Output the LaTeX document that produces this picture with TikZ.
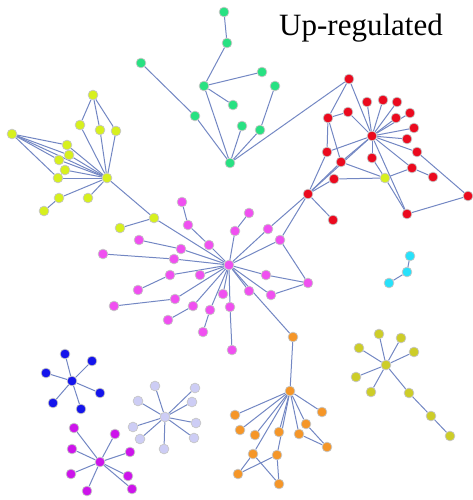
\documentclass[tikz,border=0pt]{standalone}
\usepackage{fontspec}
\setmainfont{Liberation Serif}
\usetikzlibrary{backgrounds}

\definecolor{verde}{RGB}{40,225,130}
\definecolor{rojo}{RGB}{235,10,30}
\definecolor{amarillo}{RGB}{215,240,30}
\definecolor{magenta2}{RGB}{240,80,240}
\definecolor{naranja}{RGB}{245,150,40}
\definecolor{celeste}{RGB}{40,225,250}
\definecolor{oliva}{RGB}{205,205,40}
\definecolor{azul}{RGB}{20,20,235}
\definecolor{lavanda}{RGB}{205,205,245}
\definecolor{purpura}{RGB}{205,20,235}
\definecolor{aristac}{RGB}{115,135,195}

\tikzset{
    nodo/.style={circle, inner sep=0pt, minimum size=9.8pt, draw=black!22, line width=0.7pt},
    arista/.style={draw=aristac, line width=1pt},
}

\begin{document}
\begin{tikzpicture}[x=1pt, y=-1pt]
            \useasboundingbox (0,0) rectangle (472,500);

            % Titulo
            \node[anchor=base, font=\fontsize{31}{34}\selectfont] (titulo) at (361,36) {Up-regulated};

            % Verde
            \foreach \n/\x/\y in {g1/224/12, g2/227/43, g3/204/86, g4/141/63, g5/195/116, g6/262/72,
                g7/275/86, g8/233/105, g9/242/126, g10/260/130, g11/230/163}
                \node[nodo, fill=verde] (\n) at (\x,\y) {};

            % Rojo
            \foreach \n/\x/\y in {r1/349/79, r2/328/118, r3/348/112, r4/367/102, r5/383/100, r6/397/102,
                r7/396/118, r8/410/113, r9/414/128, r10/407/139, r11/372/136, r12/327/152, r13/372/158,
                r14/417/152, r15/341/162, r16/412/168, r17/334/179, r18/433/177, r19/308/194,
                r20/468/196, r21/407/214, r22/333/220}
                \node[nodo, fill=rojo] (\n) at (\x,\y) {};
            \node[nodo, fill=amarillo] (ry) at (385,178) {};

            % Amarillo
            \foreach \n/\x/\y in {y1/93/95, y2/80/125, y3/100/130, y4/116/131, y5/12/134, y6/67/145,
                y7/69/155, y8/59/160, y9/65/170, y10/58/178, yh/107/178, y11/59/198, y12/44/211,
                y13/88/198, y14/154/218, y15/120/228}
                \node[nodo, fill=amarillo] (\n) at (\x,\y) {};

            % Magenta
            \foreach \n/\x/\y in {mh/229/265, m1/182/202, m2/188/225, m3/209/245, m4/249/213, m5/235/231,
                m6/268/229, m7/280/240, m8/139/240, m9/181/249, m10/103/254, m11/174/259, m12/170/275,
                m13/200/275, m14/138/290, m15/266/275, m16/308/283, m17/223/294, m18/249/291,
                m19/271/295, m20/114/306, m21/175/299, m22/193/306, m23/230/307, m24/210/310,
                m25/168/320, m26/203/332, m27/232/350}
                \node[nodo, fill=magenta2] (\n) at (\x,\y) {};

            % Naranja
            \foreach \n/\x/\y in {o1/293/337, oh/290/391, o2/235/415, o3/322/412, o4/240/430, o5/255/435,
                o6/279/432, o7/306/424, o8/299/434, o9/327/447, o10/253/454, o11/277/455,
                o12/238/474, o13/279/484}
                \node[nodo, fill=naranja] (\n) at (\x,\y) {};

            % Celeste
            \foreach \n/\x/\y in {c1/410/256, c2/407/272, c3/389/283}
                \node[nodo, fill=celeste] (\n) at (\x,\y) {};

            % Oliva
            \foreach \n/\x/\y in {lh/386/365, l1/379/334, l2/401/338, l3/359/348, l4/414/352, l5/356/377,
                l6/371/392, l7/409/393, l8/431/416, l9/450/436}
                \node[nodo, fill=oliva] (\n) at (\x,\y) {};

            % Azul
            \foreach \n/\x/\y in {bh/72/381, b1/65/354, b2/92/361, b3/46/373, b4/100/393, b5/53/403, b6/81/409}
                \node[nodo, fill=azul] (\n) at (\x,\y) {};

            % Lavanda
            \foreach \n/\x/\y in {vh/165/417, v1/155/386, v2/195/388, v3/138/401, v4/192/402, v5/133/427,
                v6/196/423, v7/140/439, v8/194/438, v9/164/449}
                \node[nodo, fill=lavanda] (\n) at (\x,\y) {};

            % Purpura
            \foreach \n/\x/\y in {ph/100/462, p1/74/428, p2/115/434, p3/72/449, p4/130/452, p5/71/474,
                p6/128/476, p7/87/491, p8/132/489}
                \node[nodo, fill=purpura] (\n) at (\x,\y) {};

            % Aristas
            \begin{pgfonlayer}{background}
            \foreach \a/\b in {g1/g2, g2/g3, g3/g6, g3/g8, g3/g11, g4/g5, g5/g11, g9/g11, g10/g11, g7/g10, g11/r1,
                r1/r2, r1/r11, r2/r3, r2/r12, r2/r15, r3/r11, r11/r4, r11/r5, r11/r6, r11/r7, r11/r8,
                r11/r9, r11/r10, r11/r12, r11/r13, r11/r14, r11/r15, r11/r16, r11/r19, r11/r21,
                r12/r19, r15/r19, r17/r19, r19/r22, r15/ry, r17/ry, r13/ry, ry/r16, ry/r21, r16/r18,
                r14/r20, r20/r21, r19/m6, r19/m7,
                y1/y2, y1/y3, y1/y4, yh/y2, yh/y3, yh/y4, yh/y6, yh/y7, yh/y8, yh/y9, yh/y10, yh/y11,
                yh/y13, yh/y14, y5/y6, y5/y7, y5/y8, y5/y10, y5/yh, y11/y12, y14/y15, y14/mh,
                m1/m2, m2/m3, m3/mh, m4/m5, m5/mh, m6/mh, m7/mh, m7/m16, m8/m9, m9/mh, m10/m11,
                m11/mh, m12/m14, m12/mh, m13/mh, m15/mh, m15/m16, m16/m19, m19/mh, m18/mh, m17/mh,
                m20/m21, m21/mh, m22/mh, m22/m25, m23/mh, m24/mh, m24/m26, m23/m27, mh/o1,
                o1/oh, oh/o2, oh/o3, oh/o4, oh/o5, oh/o6, oh/o7, oh/o8, oh/o10, oh/o11, o7/o9, o8/o9,
                o10/o12, o10/o13, o11/o12, o11/o13,
                c1/c2, c2/c3,
                lh/l1, lh/l2, lh/l3, lh/l4, lh/l5, lh/l6, lh/l7, l7/l8, l8/l9,
                bh/b1, bh/b2, bh/b3, bh/b4, bh/b5, bh/b6,
                vh/v1, vh/v2, vh/v3, vh/v4, vh/v5, vh/v6, vh/v7, vh/v8, vh/v9,
                ph/p1, ph/p2, ph/p3, ph/p4, ph/p5, ph/p6, ph/p7, ph/p8}
                \draw[arista] (\a) -- (\b);
            \end{pgfonlayer}
\end{tikzpicture}
\end{document}
